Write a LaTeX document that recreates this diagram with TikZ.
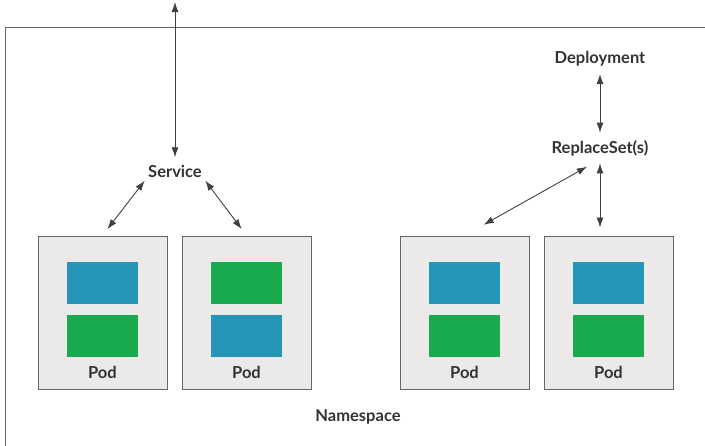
\documentclass[tikz,border=0pt]{standalone}
\usepackage{fontspec}
\setmainfont{Lato}
\usetikzlibrary{arrows.meta, positioning}
\definecolor{podgray}{HTML}{EBEAE9}
\definecolor{boxblue}{HTML}{2596B8}
\definecolor{boxgreen}{HTML}{19AB4E}
\definecolor{inkgray}{HTML}{333333}
\tikzstyle{pod} = [rectangle, minimum width=129pt, minimum height=153pt, draw=black!60, fill=podgray, line width=1pt]
\tikzstyle{block} = [rectangle, minimum width=71pt, minimum height=42pt, inner sep=0pt]
\tikzstyle{label} = [text=inkgray, font=\bfseries\fontsize{16.5}{18}\selectfont]
\tikzstyle{arrow} = [line width=0.9pt, draw=black!75, {Latex[length=10pt,width=7pt]}-{Latex[length=10pt,width=7pt]}]

\begin{document}
\begin{tikzpicture}[x=1pt, y=-1pt]
\useasboundingbox (0,0) rectangle (705,445);
\draw[draw=black!60, line width=1pt] (5,460) -- (5,27) -- (720,27);

\node (svc) [label] at (175,171) {Service};
\node (dep) [label] at (600,59) {Deployment};
\node (rs) [label] at (600,148) {ReplaceSet(s)};
\node (ns) [label] at (358,417) {Namespace};
\coordinate (top) at (svc.north |- 0,2);

\node (pod1) [pod] at (102.5,312.5) {};
\node (pod2) [pod] at (246.5,312.5) {};
\node (pod3) [pod] at (464.5,312.5) {};
\node (pod4) [pod] at (608.5,312.5) {};

\node (a1) [block, fill=boxblue, above=8pt of pod1.center] {};
\node (b1) [block, fill=boxgreen, below=10pt of a1] {};
\node (a2) [block, fill=boxgreen, above=8pt of pod2.center] {};
\node (b2) [block, fill=boxblue, below=10pt of a2] {};
\node (a3) [block, fill=boxblue, above=8pt of pod3.center] {};
\node (b3) [block, fill=boxgreen, below=10pt of a3] {};
\node (a4) [block, fill=boxblue, above=8pt of pod4.center] {};
\node (b4) [block, fill=boxgreen, below=10pt of a4] {};

\foreach \p in {pod1,pod2,pod3,pod4}
  \node [label, above=7pt of \p.south] {Pod};

\draw [arrow, shorten >=4pt] (top) -- (svc.north);
\draw [arrow, shorten >=8pt] (svc.south west) -- (pod1.north);
\draw [arrow, shorten >=8pt] (svc.south east) -- (pod2.north);
\draw [arrow, shorten <=4pt, shorten >=4pt] (dep.south) -- (rs.north);
\draw [arrow, shorten <=4pt, shorten >=8pt] (rs.south) -- (rs.south |- pod4.north);
\draw [arrow, shorten <=15pt, shorten >=22pt] (rs.south) -- (pod3.north);
\end{tikzpicture}
\end{document}
